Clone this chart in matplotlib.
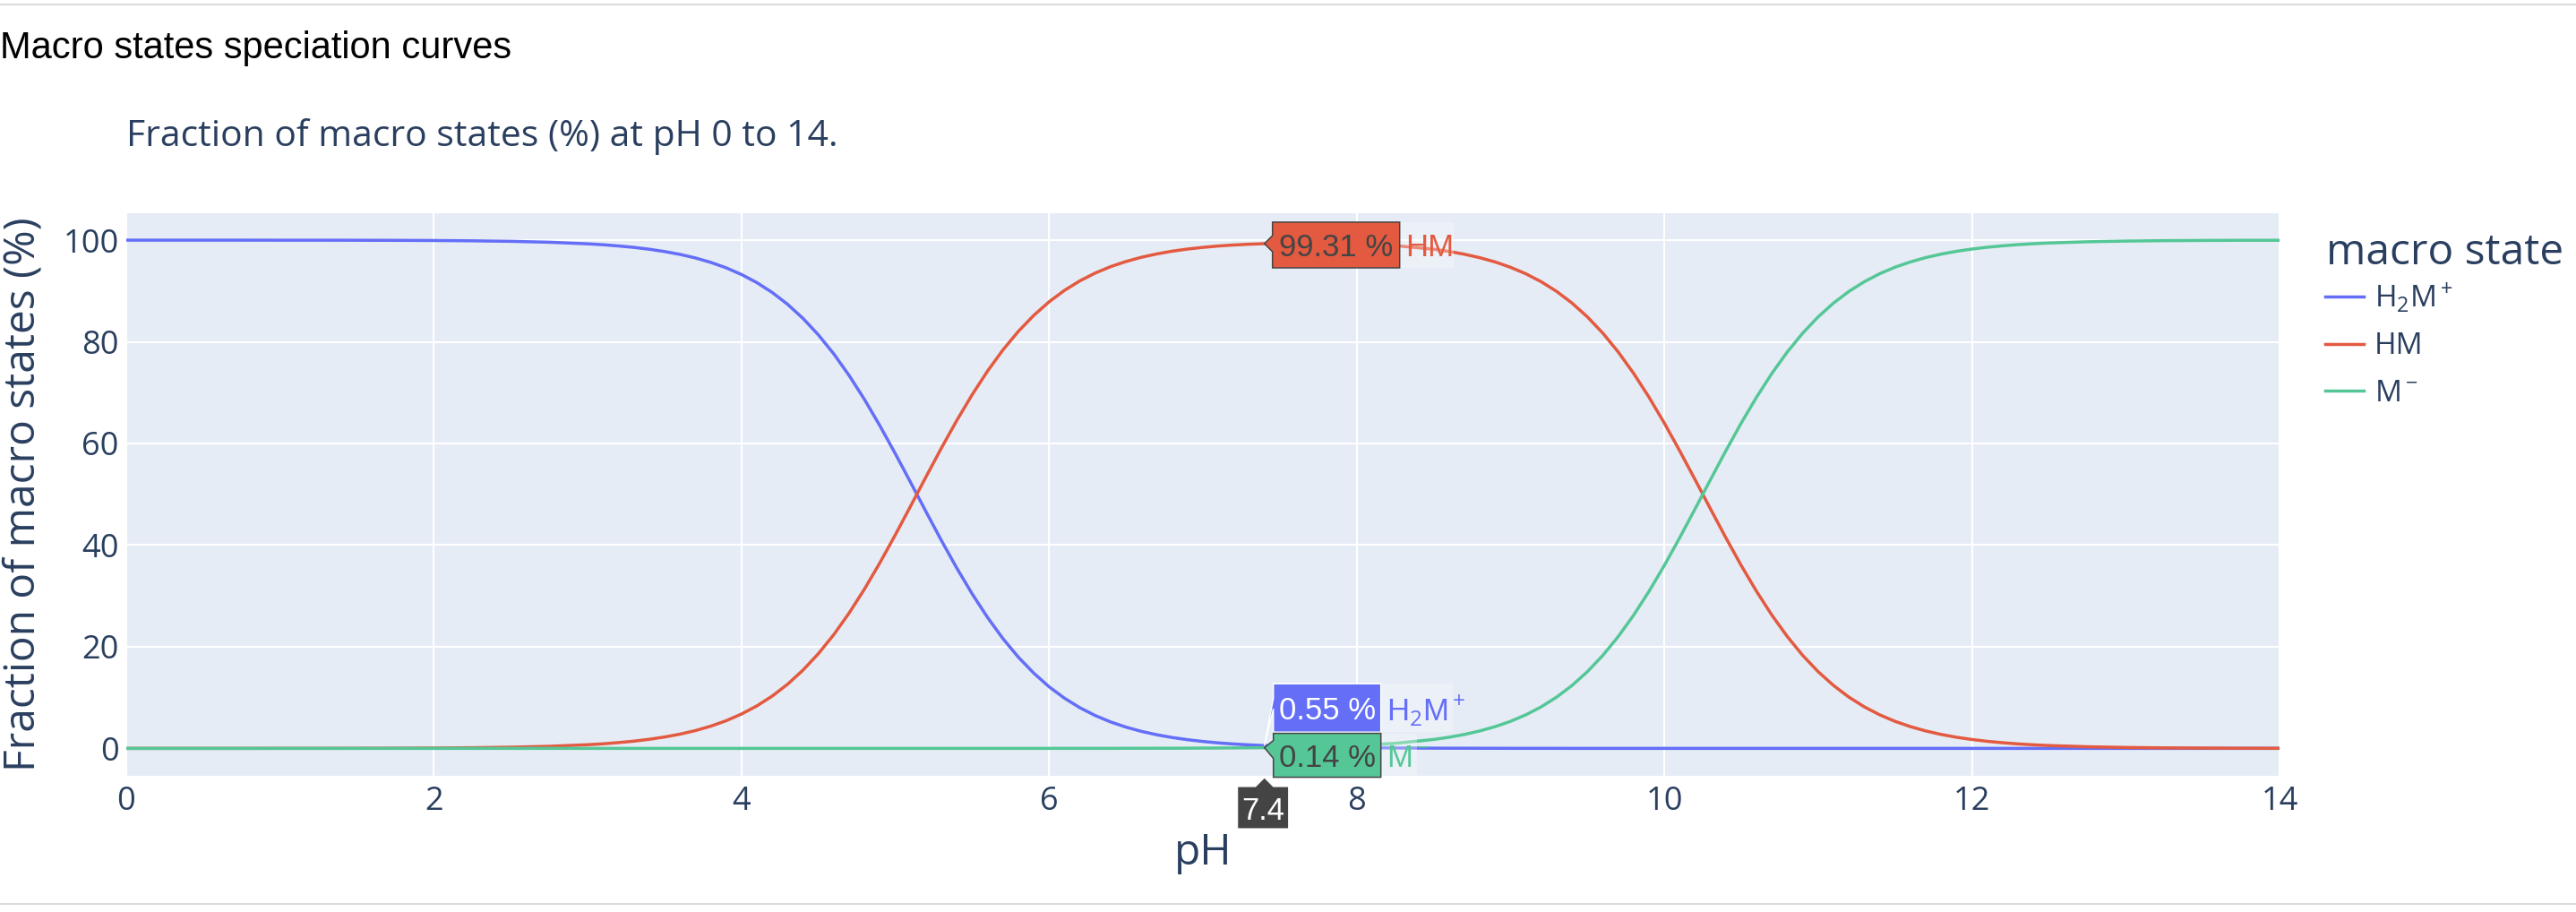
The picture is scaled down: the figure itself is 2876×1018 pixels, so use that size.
import matplotlib
matplotlib.use("Agg")
import matplotlib.pyplot as plt
import matplotlib.transforms as mtransforms
from matplotlib.patches import Polygon, Rectangle
from matplotlib.lines import Line2D

plt.rcParams['font.family'] = ['Open Sans', 'DejaVu Sans']
plt.rcParams['mathtext.fontset'] = 'custom'
plt.rcParams['mathtext.rm'] = 'Open Sans'
plt.rcParams['mathtext.it'] = 'Open Sans:italic'
plt.rcParams['mathtext.bf'] = 'Open Sans:bold'

# data (denser sampling where the curves bend)
ph = [0, 0.25, 0.5, 0.75, 1, 1.25, 1.5, 1.75, 2, 2.25, 2.5, 2.75,
      3.0, 3.1, 3.2, 3.3, 3.4, 3.5, 3.6, 3.7, 3.8, 3.9,
      4.0, 4.1, 4.2, 4.3, 4.4, 4.5, 4.6, 4.7, 4.8, 4.9,
      5.0, 5.1, 5.2, 5.3, 5.4, 5.5, 5.6, 5.7, 5.8, 5.9,
      6.0, 6.1, 6.2, 6.3, 6.4, 6.5, 6.6, 6.7, 6.8, 6.9,
      7.0, 7.1, 7.2, 7.3, 7.4, 7.5, 7.75, 8.0, 8.25,
      8.5, 8.6, 8.7, 8.8, 8.9, 9.0, 9.1, 9.2, 9.3, 9.4,
      9.5, 9.6, 9.7, 9.8, 9.9, 10.0, 10.1, 10.2, 10.3, 10.4,
      10.5, 10.6, 10.7, 10.8, 10.9, 11.0, 11.1, 11.2, 11.3, 11.4,
      11.5, 11.6, 11.7, 11.8, 11.9, 12.0, 12.1, 12.2, 12.3, 12.4, 12.5,
      12.75, 13.0, 13.25, 13.5, 13.75, 14.0]
h2m = [100.00, 100.00, 100.00, 100.00, 99.99, 99.99, 99.98, 99.96, 99.93, 99.87, 99.77, 99.59,
       99.28, 99.10, 98.86, 98.58, 98.21, 97.76, 97.20, 96.50, 95.63, 94.56,
       93.24, 91.64, 89.70, 87.37, 84.60, 81.36, 77.62, 73.36, 68.63, 63.47,
       57.99, 52.30, 46.55, 40.89, 35.46, 30.39, 25.75, 21.59, 17.95, 14.81,
       12.12, 9.87, 8.00, 6.46, 5.20, 4.18, 3.35, 2.68, 2.14, 1.71,
       1.36, 1.08, 0.86, 0.69, 0.55, 0.43, 0.24, 0.14, 0.08,
       0.04, 0.03, 0.03, 0.02, 0.02, 0.01, 0.01, 0.01, 0.01, 0.00,
       0.00, 0.00, 0.00, 0.00, 0.00, 0.00, 0.00, 0.00, 0.00, 0.00,
       0.00, 0.00, 0.00, 0.00, 0.00, 0.00, 0.00, 0.00, 0.00, 0.00,
       0.00, 0.00, 0.00, 0.00, 0.00, 0.00, 0.00, 0.00, 0.00, 0.00, 0.00,
       0.00, 0.00, 0.00, 0.00, 0.00, 0.00]
hm = [0.00, 0.00, 0.00, 0.00, 0.01, 0.01, 0.02, 0.04, 0.07, 0.13, 0.23, 0.41,
      0.72, 0.90, 1.14, 1.42, 1.79, 2.24, 2.80, 3.50, 4.37, 5.44,
      6.76, 8.36, 10.30, 12.63, 15.40, 18.64, 22.38, 26.64, 31.37, 36.53,
      42.01, 47.70, 53.45, 59.11, 64.54, 69.61, 74.25, 78.41, 82.05, 85.19,
      87.87, 90.12, 91.99, 93.53, 94.79, 95.80, 96.63, 97.29, 97.83, 98.25,
      98.58, 98.85, 99.05, 99.20, 99.31, 99.39, 99.44, 99.30, 98.93,
      98.21, 97.78, 97.23, 96.55, 95.71, 94.66, 93.38, 91.81, 89.91, 87.62,
      84.90, 81.71, 78.01, 73.81, 69.12, 64.01, 58.55, 52.88, 47.13, 41.45,
      35.99, 30.88, 26.19, 21.99, 18.29, 15.10, 12.38, 10.09, 8.18, 6.61,
      5.32, 4.28, 3.43, 2.74, 2.19, 1.75, 1.39, 1.11, 0.88, 0.70, 0.56,
      0.32, 0.18, 0.10, 0.06, 0.03, 0.02]
m = [0.00, 0.00, 0.00, 0.00, 0.00, 0.00, 0.00, 0.00, 0.00, 0.00, 0.00, 0.00,
     0.00, 0.00, 0.00, 0.00, 0.00, 0.00, 0.00, 0.00, 0.00, 0.00,
     0.00, 0.00, 0.00, 0.00, 0.00, 0.00, 0.00, 0.00, 0.00, 0.00,
     0.00, 0.00, 0.00, 0.00, 0.00, 0.00, 0.00, 0.00, 0.00, 0.00,
     0.01, 0.01, 0.01, 0.01, 0.01, 0.02, 0.02, 0.03, 0.03, 0.04,
     0.06, 0.07, 0.09, 0.11, 0.14, 0.18, 0.31, 0.56, 0.99,
     1.75, 2.19, 2.74, 3.43, 4.28, 5.32, 6.61, 8.18, 10.09, 12.38,
     15.10, 18.29, 21.99, 26.19, 30.88, 35.99, 41.45, 47.12, 52.87, 58.55,
     64.01, 69.12, 73.81, 78.01, 81.71, 84.90, 87.62, 89.91, 91.82, 93.39,
     94.68, 95.72, 96.57, 97.26, 97.81, 98.25, 98.61, 98.89, 99.12, 99.30, 99.44,
     99.68, 99.82, 99.90, 99.94, 99.97, 99.98]
names = [r'H$_2$M$^+$', 'HM', r'M$^-$']
colors = ['#646EF7', '#E35A40', '#55C796']
hover_ph = 7.4
hover_vals = [0.55, 99.31, 0.14]

W, H, DPI = 2876, 1018, 100
TXT = '#2a3f5f'
fig = plt.figure(figsize=(W / DPI, H / DPI), dpi=DPI)
ax = fig.add_axes([141 / W, 1 - 866 / H, (2545 - 141) / W, (866 - 238) / H])
ax.set_facecolor('#E5ECF6')

for vals, name, col in zip([h2m, hm, m], names, colors):
    ax.plot(ph, vals, color=col, lw=2.5, label=name, zorder=3)

ax.set_xlim(0, 14)
ax.set_ylim(-5.4, 105.3)
ax.set_xticks(range(0, 15, 2))
ax.set_yticks(range(0, 101, 20))
ax.grid(color='white', lw=1.5)
ax.set_axisbelow(True)
for s in ax.spines.values():
    s.set_visible(False)
ax.tick_params(length=0, labelsize=26, labelcolor=TXT)
ax.tick_params(axis='y', pad=6)
ax.tick_params(axis='x', pad=8)

ax.set_xlabel('pH', fontsize=34.5, color=TXT)
ax.xaxis.label.set_va('baseline')
ax.xaxis.set_label_coords(0.5, (866 - 965) / 628)
ax.set_ylabel('Fraction of macro states (%)', fontsize=34.5, color=TXT)
ax.yaxis.label.set_va('center')
ax.yaxis.set_label_coords((26 - 141) / 2404, 0.5)

# legend: title as separate text so the row spacing can follow the reference
fig.text(2597 / W, 1 - 295 / H, 'macro state', fontsize=34.5, color=TXT, va='baseline')
ax.legend(loc='upper left', bbox_to_anchor=(2596 / W, 1 - 313 / H),
          bbox_transform=fig.transFigure, frameon=False, fontsize=24,
          handlelength=1.3, handletextpad=0.35, labelspacing=0.58, borderpad=0,
          borderaxespad=0, labelcolor=TXT)

fig.text(0, 1 - 65 / H, 'Macro states speciation curves', family='Liberation Sans',
         fontsize=30, color='black', va='baseline')
fig.text(141 / W, 1 - 163 / H, 'Fraction of macro states (%) at pH 0 to 14.',
         fontsize=29.4, color=TXT, va='baseline')
for yy in (5, 1009):
    fig.add_artist(Line2D([0, 1], [1 - yy / H] * 2, color='#dcdcdc', lw=1.5,
                          transform=fig.transFigure))


def px(x, y, base=ax.transData):
    # pixel offsets (y pointing down) from a point given in base coords
    return (mtransforms.Affine2D().scale(1 / DPI, -1 / DPI) + fig.dpi_scale_trans
            + mtransforms.ScaledTranslation(x, y, base))


# hover labels at pH 7.4
hover_shapes = [
    # (box x0, x1, y0, y1, notch top, notch bottom, text colour, edge colour, name width)
    (10, 130, -69, -15, -53, -41, 'white', 'white', 80),
    (9, 151, -24, 27, -9, 9, '#444444', '#444444', 60),
    (10, 130, -16, 33, -8, 12, '#444444', '#444444', 40),
]
for val, name, col, (x0, x1, y0, y1, n0, n1, tc, ec, nw) in zip(hover_vals, names, colors,
                                                                 hover_shapes):
    tr = px(hover_ph, val)
    ax.add_patch(Polygon([(0, 0), (x0, n0), (x0, y0), (x1, y0), (x1, y1), (x0, y1), (x0, n1)],
                         closed=True, fc=col, ec=ec, lw=1.1, transform=tr, clip_on=False,
                         zorder=6))
    yc = (y0 + y1) / 2
    ax.add_patch(Rectangle((x1, y0), nw, y1 - y0, fc='white', alpha=0.3, lw=0,
                           transform=tr, clip_on=False, zorder=5))
    ax.text((x0 + x1) / 2, yc, f'{val:.2f} %', transform=tr, ha='center',
            va='center_baseline', family='Liberation Sans', fontsize=25, color=tc, zorder=7)
    ax.text(x1 + 6, yc, name, transform=tr, ha='left', va='center_baseline',
            family='Liberation Sans', fontsize=25, color=col, zorder=7)

# x spike label
trx = px(hover_ph, 0, ax.get_xaxis_transform())
ax.add_patch(Polygon([(0, 2), (10, 12), (27, 12), (27, 59), (-30, 59), (-30, 12), (-10, 12)],
                     closed=True, fc='#444444', ec='white', lw=0.8, transform=trx,
                     clip_on=False, zorder=6))
ax.text(-1.5, 36, f'{hover_ph}', transform=trx, ha='center', va='center_baseline',
        family='Liberation Sans', fontsize=25, color='white', zorder=7)

fig.savefig('out.png', dpi=DPI)
